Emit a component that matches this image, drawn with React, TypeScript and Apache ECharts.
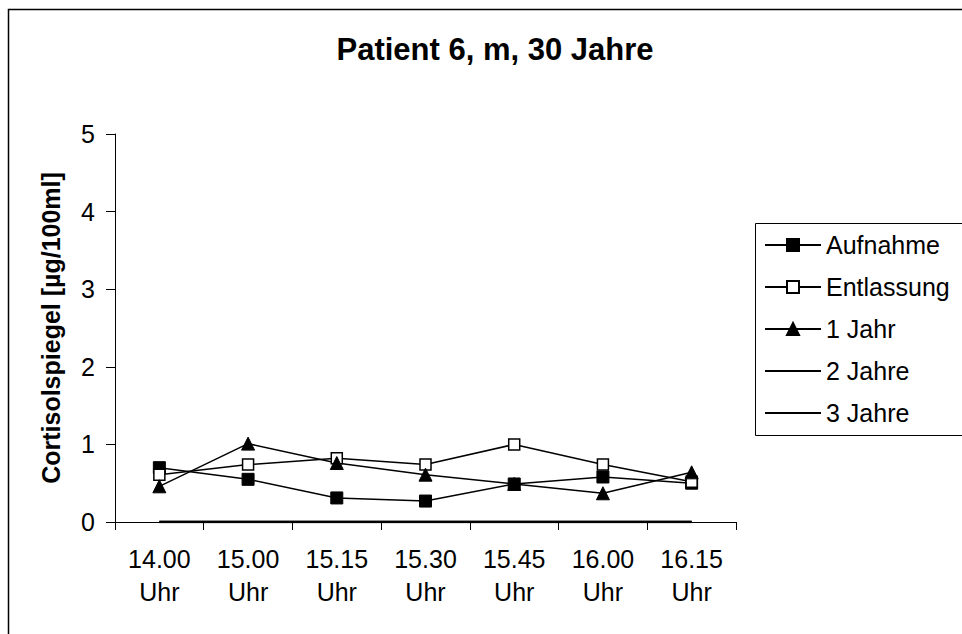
import React, { useEffect, useRef } from "react";
import * as echarts from "echarts";

// Messzeitpunkte
const categories = ["14.00 Uhr", "15.00 Uhr", "15.15 Uhr", "15.30 Uhr", "15.45 Uhr", "16.00 Uhr", "16.15 Uhr"];

// Cortisolspiegel [µg/100ml]
const aufnahme = [0.7, 0.55, 0.31, 0.27, 0.49, 0.58, 0.5];
const entlassung = [0.61, 0.74, 0.82, 0.74, 1.0, 0.74, 0.52];
const einJahr = [0.46, 1.01, 0.76, 0.61, 0.49, 0.37, 0.64];
const zweiJahre = [0, 0, 0, 0, 0, 0, 0];
const dreiJahre = [0, 0, 0, 0, 0, 0, 0];

const yTicks = [0, 1, 2, 3, 4, 5];

const FONT = "'Liberation Sans', Arial, sans-serif";

export default function App() {
  const ref = useRef<HTMLDivElement>(null);

  useEffect(() => {
    if (!ref.current) return;
    const chart = echarts.init(ref.current, undefined, { renderer: "svg" });
    const lineStyle = { color: "#000", width: 1.5 };
    const hiddenSymbol = { color: "rgba(0,0,0,0)", borderColor: "rgba(0,0,0,0)", borderWidth: 0 };
    chart.setOption({
      animation: false,
      backgroundColor: "#fff",
      textStyle: { fontFamily: FONT, color: "#000" },
      title: {
        text: "Patient 6, m, 30 Jahre",
        left: 490,
        textAlign: "center",
        top: 29,
        textStyle: { fontFamily: FONT, fontSize: 31, fontWeight: "bold", color: "#000" },
      },
      graphic: [
        {
          type: "rect",
          shape: { x: 8.5, y: 9.5, width: 1000, height: 700 },
          style: { fill: "none", stroke: "#000", lineWidth: 1.5 },
          silent: true,
          z: -1,
        },
        {
          type: "rect",
          shape: { x: 755.5, y: 223.5, width: 260, height: 212 },
          style: { fill: "#fff", stroke: "#000", lineWidth: 1 },
          silent: true,
          z: 0,
        },
      ],
      legend: {
        orient: "vertical",
        left: 764,
        top: 232,
        padding: 0,
        itemWidth: 56,
        itemHeight: 15,
        itemGap: 16,
        z: 10,
        textStyle: { fontFamily: FONT, fontSize: 25, color: "#000", lineHeight: 26 },
        data: [
          "Aufnahme",
          "Entlassung",
          "1 Jahr",
          { name: "2 Jahre", itemStyle: hiddenSymbol },
          { name: "3 Jahre", itemStyle: hiddenSymbol },
        ],
      },
      grid: { left: 115, right: 226, top: 134, bottom: 112 },
      xAxis: {
        type: "category",
        data: categories,
        boundaryGap: true,
        axisLine: { lineStyle: { color: "#000", width: 1 } },
        axisTick: { show: true, length: 8, lineStyle: { color: "#000" } },
        axisLabel: {
          fontFamily: FONT,
          fontSize: 25,
          color: "#000",
          lineHeight: 33.5,
          margin: 20,
          interval: 0,
          formatter: (v: string) => v.replace(" ", "\n"),
        },
        splitLine: { show: false },
      },
      yAxis: {
        type: "value",
        min: yTicks[0],
        max: yTicks[yTicks.length - 1],
        interval: 1,
        name: "Cortisolspiegel [µg/100ml]",
        nameLocation: "middle",
        nameGap: 52,
        nameTextStyle: { fontFamily: FONT, fontSize: 25, fontWeight: "bold", color: "#000" },
        axisLine: { show: true, lineStyle: { color: "#000", width: 1 } },
        axisTick: { show: true, length: 9, lineStyle: { color: "#000" } },
        axisLabel: { fontFamily: FONT, fontSize: 25, color: "#000", margin: 20 },
        splitLine: { show: false },
      },
      series: [
        {
          name: "2 Jahre",
          type: "line",
          data: zweiJahre,
          symbol: "none",
          color: "#000",
          lineStyle: { color: "#000", width: 2.5 },
          itemStyle: { color: "#000" },
        },
        {
          name: "3 Jahre",
          type: "line",
          data: dreiJahre,
          symbol: "none",
          color: "#000",
          lineStyle: { color: "#000", width: 2.5 },
          itemStyle: { color: "#000" },
        },
        {
          name: "Aufnahme",
          type: "line",
          data: aufnahme,
          symbol: "rect",
          symbolSize: 12,
          color: "#000",
          lineStyle,
          itemStyle: { color: "#000", borderColor: "#000", borderWidth: 1 },
        },
        {
          name: "Entlassung",
          type: "line",
          data: entlassung,
          symbol: "rect",
          symbolSize: 11,
          color: "#000",
          lineStyle,
          itemStyle: { color: "#fff", borderColor: "#000", borderWidth: 1.5 },
        },
        {
          name: "1 Jahr",
          type: "line",
          data: einJahr,
          symbol: "triangle",
          symbolSize: 13,
          color: "#000",
          lineStyle,
          itemStyle: { color: "#000", borderColor: "#000", borderWidth: 1 },
        },
      ],
    });
    return () => chart.dispose();
  }, []);

  return (
    <div
      ref={ref}
      style={{ position: "fixed", left: 0, top: 0, width: 962, height: 634 }}
    />
  );
}
